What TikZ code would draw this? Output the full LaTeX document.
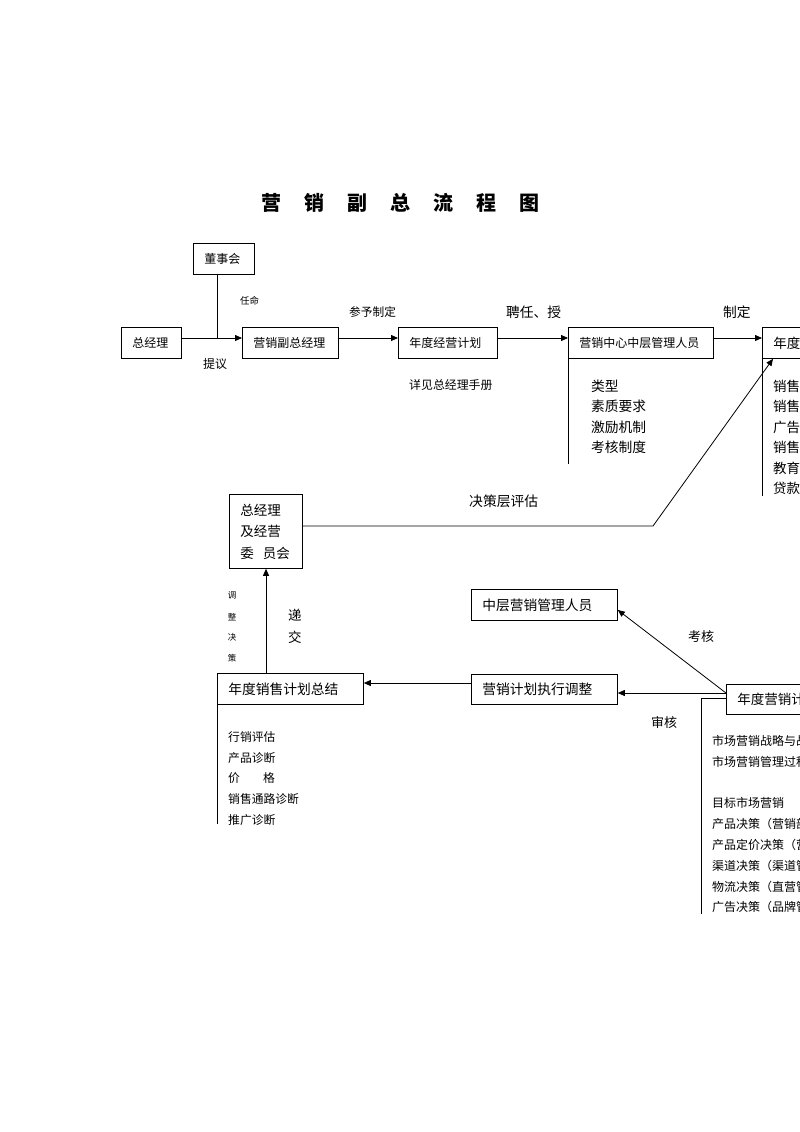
\documentclass[tikz,border=0pt]{standalone}
\usepackage{fontspec}
\setmainfont{Noto Sans CJK SC}
\usetikzlibrary{arrows.meta,calc}
\newcommand\fsz[1]{\fontsize{#1}{#1}\selectfont}
\begin{document}
\begin{tikzpicture}[x=1pt,y=-1pt,
  ln/.style={line width=0.8pt},
  arr/.style={line width=0.8pt,-{Triangle[length=7pt,width=6pt]}},
  box/.style={draw,line width=0.8pt,anchor=north west,minimum height=31pt,inner xsep=11pt,inner ysep=0pt,align=left},
  lbl/.style={anchor=west,inner sep=0pt},
]
\useasboundingbox[fill=white] (0,0) rectangle (800,1132);
\clip (0,0) rectangle (800,1132);

% title
\node[font={\fsz{20}\bfseries},inner sep=0pt] (title) at (400,203)
  {营\hspace{23pt}销\hspace{23pt}副\hspace{23pt}总\hspace{23pt}流\hspace{23pt}程\hspace{23pt}图};

% top row boxes
\node[box,text width=39pt,font={\fsz{12}}] (dsh) at (193,243) {董事会};
\node[box,text width=38pt,font={\fsz{12}}] (zjl) at (121,327) {总经理};
\node[box,text width=74pt,font={\fsz{12}}] (fz) at (242,327) {营销副总经理};
\node[box,text width=77pt,font={\fsz{12}}] (ndjy) at (398,327) {年度经营计划};
\node[box,text width=123pt,font={\fsz{12}}] (zc) at (568,327) {营销中心中层管理人员};
\node[box,text width=118pt,font={\fsz{13.5}},minimum height=31pt] (nd) at (762,327) {年度};

% second area boxes
\node[box,text width=51pt,minimum height=74pt,font={\fontsize{13.5}{21.5}\selectfont}] (wyh) at (229,494)
  {总经理\\及经营\\委\hspace{9pt}员会};
\node[box,text width=124pt,font={\fsz{13.75}}] (zc2) at (471,589) {中层营销管理人员};
\node[box,text width=124pt,minimum height=30pt,font={\fsz{13.75}}] (zxtz) at (471,674) {营销计划执行调整};
\node[box,text width=124pt,font={\fsz{13.75}}] (zj) at (217,673) {年度销售计划总结};
\node[box,text width=118pt,minimum height=30pt,font={\fsz{13.5}}] (ndyx) at (726,684) {年度营销计};

% helper coordinates
\coordinate (j1) at (217,338);
\coordinate (b1) at (653,526);
\coordinate (x1) at (266,0);
\coordinate (y1) at (0,683);
\coordinate (k) at (0,693);
\coordinate (y2) at (0,610);
\coordinate (y3) at (0,698);
\coordinate (c3) at (701,698);
\coordinate (c4) at (701,914);

% top connectors
\draw[ln] (j1 |- dsh.south) -- (j1);
\draw[arr] (zjl.east |- j1) -- (fz.west |- j1);
\draw[arr] (fz.east |- j1) -- (ndjy.west |- j1);
\draw[arr] (ndjy.east |- j1) -- (zc.west |- j1);
\draw[arr] (zc.east |- j1) -- (nd.west |- j1);
\draw[ln] (zc.south west) -- ++(0,105);
\draw[ln] (nd.south west) -- ++(0,137);

% evaluation line
\draw[arr] (wyh.east |- b1) -- (b1) -- ($(nd.south west)+(11,0)$);

% lower connectors
\draw[arr] (zj.north -| x1) -- (wyh.south -| x1);
\draw[arr] (zxtz.west |- y1) -- (zj.east |- y1);
\draw[arr] (ndyx.west |- k) -- (zxtz.east |- k);
\draw[arr] (ndyx.west |- k) -- (zc2.east |- y2);
\draw[ln] (ndyx.west |- y3) -- (c3) -- (c4);
\draw[ln] (zj.south west) -- ++(0,119);

% labels
\node[lbl,font={\fsz{9.5}}] (l1) at (240,301) {任命};
\node[lbl,font={\fsz{12}}] (l2) at (203,364) {提议};
\node[lbl,font={\fsz{11.7}}] (l3) at (349,312) {参予制定};
\node[lbl,font={\fsz{11.9}}] (l4) at (409,385) {详见总经理手册};
\node[lbl,font={\fsz{13.75}}] (l5) at (506,312) {聘任、授};
\node[lbl,font={\fsz{13.75}}] (l6) at (723,312) {制定};
\node[lbl,font={\fsz{13.8}}] (l7) at (469,501) {决策层评估};
\node[lbl,font={\fsz{13.5}}] (l8) at (288,615) {递};
\node[lbl,font={\fsz{13.5}}] (l9) at (288,637) {交};
\node[inner sep=0pt,font={\fsz{8.5}}] (t1) at (232,595) {调};
\node[inner sep=0pt,font={\fsz{8.5}}] (t2) at (232,617) {整};
\node[inner sep=0pt,font={\fsz{8.5}}] (t3) at (232,637) {决};
\node[inner sep=0pt,font={\fsz{8.5}}] (t4) at (232,658) {策};
\node[lbl,font={\fsz{13}}] (l10) at (688,637) {考核};
\node[lbl,font={\fsz{13}}] (l11) at (651,723) {审核};

% list under 营销中心中层管理人员
\foreach \t [count=\i] in {类型,素质要求,激励机制,考核制度}
  \node[lbl,font={\fsz{13.75}}] (a\i) at (591,{386+20.5*(\i-1)}) {\t};
% list under 年度
\foreach \t [count=\i] in {销售,销售,广告,销售,教育,贷款}
  \node[lbl,font={\fsz{13.5}}] (b\i) at (773,{386+20.5*(\i-1)}) {\t};
% list under 年度销售计划总结
\node[lbl,font={\fsz{11.8}}] (c1) at (228,737) {行销评估};
\node[lbl,font={\fsz{11.8}}] (c2) at (228,758) {产品诊断};
\node[lbl,font={\fsz{11.8}}] (c5) at (228,778) {价\hspace{23pt}格};
\node[lbl,font={\fsz{11.8}}] (c6) at (228,799) {销售通路诊断};
\node[lbl,font={\fsz{11.8}}] (c7) at (228,820) {推广诊断};
% list under 年度营销计
\node[lbl,font={\fsz{12}}] (d1) at (712,741) {市场营销战略与战};
\node[lbl,font={\fsz{12}}] (d2) at (712,762) {市场营销管理过程};
\node[lbl,font={\fsz{12}}] (d3) at (712,803) {目标市场营销};
\node[lbl,font={\fsz{12}}] (d4) at (712,824) {产品决策（营销部};
\node[lbl,font={\fsz{12}}] (d5) at (712,845) {产品定价决策（营};
\node[lbl,font={\fsz{12}}] (d6) at (712,866) {渠道决策（渠道管};
\node[lbl,font={\fsz{12}}] (d7) at (712,887) {物流决策（直营管};
\node[lbl,font={\fsz{12}}] (d8) at (712,907) {广告决策（品牌管};
\end{tikzpicture}
\end{document}
